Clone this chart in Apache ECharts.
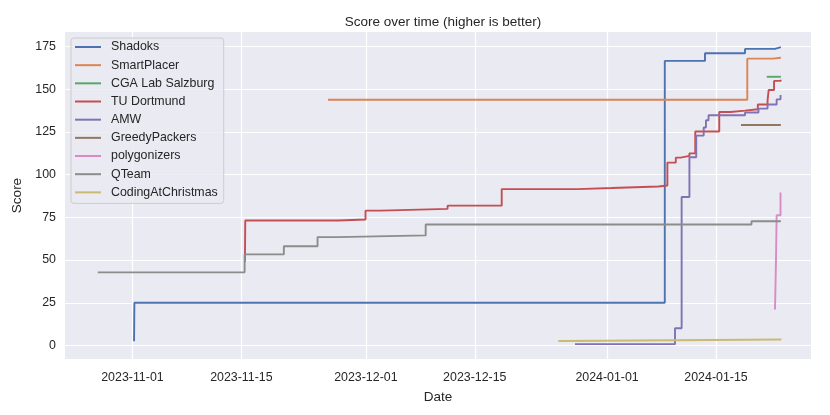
<!DOCTYPE html>
<html>
<head>
<meta charset="utf-8">
<script src="https://cdn.jsdelivr.net/npm/echarts@6/dist/echarts.min.js"></script>
<style>html,body{margin:0;padding:0;background:#fff}#chart{width:830px;height:415px}</style>
</head>
<body>
<div id="chart"></div>
<script>
// ---- data (date, score) ----
const teamNames = ['Shadoks','SmartPlacer','CGA Lab Salzburg','TU Dortmund','AMW','GreedyPackers','polygonizers','QTeam','CodingAtChristmas'];
const shadoks = [['2023-11-01 05:00',2.5],['2023-11-01 06:00',25],['2024-01-08 10:00',166.5],['2024-01-13 14:00',171],['2024-01-18 17:30',173.5],['2024-01-22 14:00',174.5],['2024-01-23 08:00',174.5]];
const smartPlacer = [['2023-11-26 03:00',143.8],['2024-01-19 00:30',167.8],['2024-01-22 08:00',168.3],['2024-01-23 08:00',168.3]];
const cgaLab = [['2024-01-21 12:30',157.2],['2024-01-23 08:00',157.2]];
const tuDortmund = [['2023-11-15 11:00',49],['2023-11-15 12:00',73.1],['2023-11-27 11:00',73.7],['2023-11-30 23:00',78.9],['2023-12-02 21:30',79.9],['2023-12-11 12:00',81.8],['2023-12-18 11:00',91.5],['2023-12-28 05:00',92.1],['2024-01-01 14:00',93.0],['2024-01-07 14:00',93.6],['2024-01-08 18:00',107],['2024-01-09 20:00',109.9],['2024-01-10 11:00',110.9],['2024-01-11 14:00',112.4],['2024-01-12 08:00',125.2],['2024-01-15 10:00',136.6],['2024-01-16 21:00',137.4],['2024-01-18 17:30',138.2],['2024-01-20 09:00',141],['2024-01-21 15:00',143.4],['2024-01-21 18:30',149.5],['2024-01-22 11:00',154.8],['2024-01-23 07:30',155.4],['2024-01-23 08:00',155.4]];
const amw = [['2023-12-27 21:00',0.8],['2024-01-09 17:30',10.1],['2024-01-10 14:00',86.9],['2024-01-11 14:00',110.1],['2024-01-12 11:00',122.8],['2024-01-13 10:00',127.5],['2024-01-13 17:00',131.8],['2024-01-14 01:00',134.7],['2024-01-18 17:30',136.3],['2024-01-20 11:00',138.6],['2024-01-21 15:00',141],['2024-01-22 19:00',144],['2024-01-23 07:00',146.5]];
const greedyPackers = [['2024-01-18 05:00',129],['2024-01-23 08:00',129]];
const polygonizers = [['2024-01-22 14:00',21],['2024-01-22 17:00',49.5],['2024-01-22 19:00',76.2],['2024-01-23 07:00',89.5]];
const qTeam = [['2023-10-27 13:00',42.8],['2023-11-15 10:00',53.3],['2023-11-20 11:00',58.1],['2023-11-24 19:00',63.4],['2023-11-27 09:00',64.4],['2023-12-08 16:30',70.8],['2024-01-19 13:30',72.7],['2024-01-23 08:00',72.7]];
const codingAtChristmas = [['2023-12-25 17:30',2.6],['2023-12-26 11:00',3.5],['2024-01-23 10:00',3.5]];
const teamData = [shadoks, smartPlacer, cgaLab, tuDortmund, amw, greedyPackers, polygonizers, qTeam, codingAtChristmas];

const xTickDates = ['2023-11-01','2023-11-15','2023-12-01','2023-12-15','2024-01-01','2024-01-15'];
const yTickValues = [0,25,50,75,100,125,150,175];
const xRange = ['2023-10-23 08:00','2024-01-27 05:00'];
const yRange = [-7.9,183.4];

const colors = ['#4C72B0','#DD8452','#55A868','#C44E52','#8172B3','#937860','#DA8BC3','#8C8C8C','#CCB974'];
const FONT = '"Liberation Sans", Arial, sans-serif';
const TXT = '#262626';

function t(s){
  const m = s.match(/(\d+)-(\d+)-(\d+)(?:\s+(\d+):(\d+))?/);
  return Date.UTC(+m[1], +m[2]-1, +m[3], m[4]?+m[4]:0, m[5]?+m[5]:0);
}
function fmt(v){
  const d = new Date(v);
  const p = n => (n<10?'0':'')+n;
  return d.getUTCFullYear()+'-'+p(d.getUTCMonth()+1)+'-'+p(d.getUTCDate());
}

const chart = echarts.init(document.getElementById('chart'), null, {renderer:'canvas'});
chart.setOption({
  animation:false,
  backgroundColor:'#ffffff',
  color: colors,
  title:{
    text:'Score over time (higher is better)',
    left:438, top:10, textAlign:'center',
    textStyle:{fontFamily:FONT, fontSize:13.5, fontWeight:'normal', color:TXT}
  },
  grid:{left:65, right:19, top:32, bottom:56, show:true, backgroundColor:'#EAEAF2', borderWidth:0},
  legend:{
    data: teamNames,
    orient:'vertical', left:71, top:38,
    icon:'rect', itemWidth:26, itemHeight:2, itemGap:0.17,
    padding:[0,6,2,4],
    backgroundColor:'rgba(234,234,242,0.8)', borderColor:'#cccccc', borderWidth:1, borderRadius:3,
    textStyle:{fontFamily:FONT, fontSize:12.4, color:TXT, lineHeight:18, padding:[0,0,0,5]}
  },
  xAxis:{
    type:'value', min:t(xRange[0]), max:t(xRange[1]),
    name:'Date', nameLocation:'middle', nameGap:31,
    nameTextStyle:{fontFamily:FONT, fontSize:13.5, color:TXT},
    axisLine:{show:false}, axisTick:{show:false, customValues: xTickDates.map(t)},
    axisLabel:{customValues: xTickDates.map(t), formatter: v => fmt(v), fontFamily:FONT, fontSize:12.4, color:TXT, margin:13, hideOverlap:false},
    splitLine:{show:true, lineStyle:{color:'#ffffff', width:1.2}}
  },
  yAxis:{
    type:'value', min:yRange[0], max:yRange[1],
    name:'Score', nameLocation:'middle', nameGap:34,
    nameTextStyle:{fontFamily:FONT, fontSize:13.5, color:TXT},
    axisLine:{show:false}, axisTick:{show:false, customValues: yTickValues},
    axisLabel:{customValues: yTickValues, fontFamily:FONT, fontSize:12.4, color:TXT, margin:9},
    splitLine:{show:true, lineStyle:{color:'#ffffff', width:1.2}}
  },
  series: teamNames.map((n,i)=>({
    name:n, type:'line', step:'end', showSymbol:false, symbol:'none',
    data: teamData[i].map(p=>[t(p[0]), p[1]]),
    lineStyle:{width:1.9, color:colors[i]}, itemStyle:{color:colors[i]},
    emphasis:{disabled:true}
  }))
});
</script>
</body>
</html>
